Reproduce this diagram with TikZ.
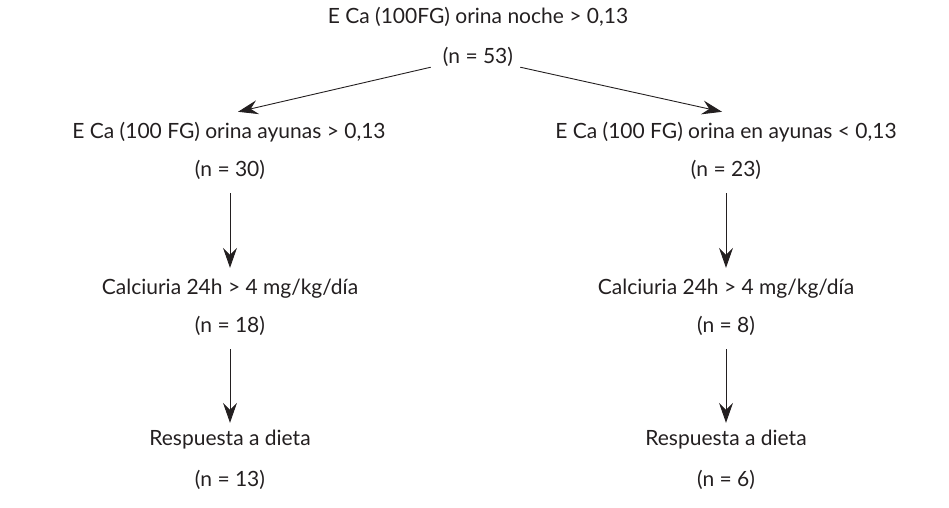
\documentclass[tikz,border=0pt]{standalone}
\usepackage{fontspec}
\setmainfont{Lato}
\usetikzlibrary{arrows.meta,calc}
\definecolor{ink}{HTML}{231F20}
\tikzset{
  lbl/.style={inner sep=0pt, text height=15pt, text depth=5pt, text=ink, font=\fontsize{21}{25}\selectfont},
  arr/.style={draw=ink, line width=0.9pt, -{Stealth[length=20pt,width=14pt,inset=7pt]}}
}
\begin{document}
\begin{tikzpicture}[x=1pt,y=-1pt]
\useasboundingbox (0,0) rectangle (949,507);
% top
\node[lbl] (t1) at (478,18) {E Ca (100FG) orina noche > 0,13};
\node[lbl] (t1n) at (478,58) {(n = 53)};
% level 2
\node[lbl] (l2) at (229,133) {E Ca (100 FG) orina ayunas > 0,13};
\node[lbl] (l2n) at (230,171) {(n = 30)};
\node[lbl] (r2) at (726,133) {E Ca (100 FG) orina en ayunas < 0,13};
\node[lbl] (r2n) at (726,171) {(n = 23)};
% level 3
\node[lbl] (l3) at (230,289) {Calciuria 24h > 4 mg/kg/día};
\node[lbl] (l3n) at (230,327) {(n = 18)};
\node[lbl] (r3) at (726,289) {Calciuria 24h > 4 mg/kg/día};
\node[lbl] (r3n) at (726,327) {(n = 8)};
% level 4
\node[lbl] (l4) at (230,440) {Respuesta a dieta};
\node[lbl] (l4n) at (230,481) {(n = 13)};
\node[lbl] (r4) at (726,440) {Respuesta a dieta};
\node[lbl] (r4n) at (726,481) {(n = 6)};
% connectors
\coordinate (ls) at ($(t1n.south west)+(-12,-1)$);
\coordinate (rs) at ($(t1n.south east)+(7,-1)$);
\coordinate (lt) at ($(l2.north)+(9,-11)$);
\coordinate (rt) at ($(r2.north)+(-4,-11)$);
\draw[arr] (ls) -- (lt);
\draw[arr] (rs) -- (rt);
\draw[arr, shorten <=12pt, shorten >=11pt] (l2n.south) -- (l3.north);
\draw[arr, shorten <=12pt, shorten >=11pt] (r2n.south) -- (r3.north);
\draw[arr, shorten <=12pt, shorten >=7pt] (l3n.south) -- (l4.north);
\draw[arr, shorten <=12pt, shorten >=7pt] (r3n.south) -- (r4.north);
\end{tikzpicture}
\end{document}
